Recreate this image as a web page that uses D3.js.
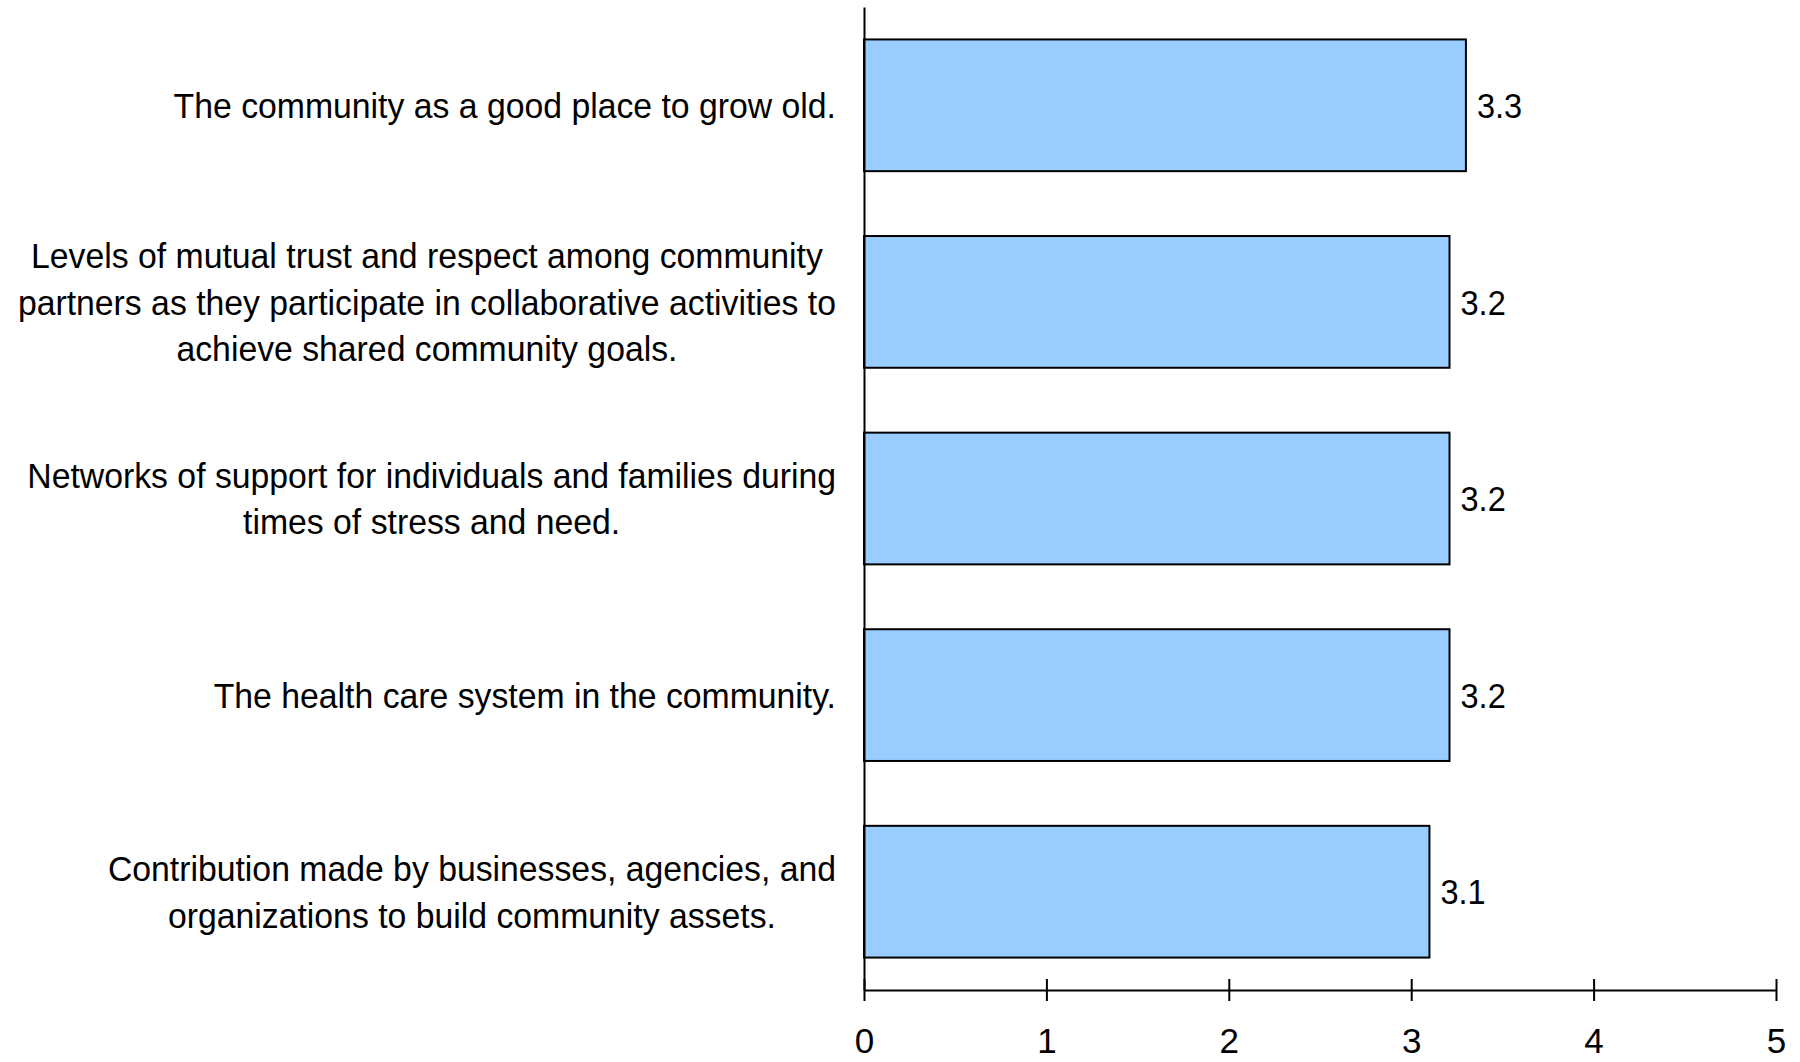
<!DOCTYPE html>
<html>
<head>
<meta charset="utf-8">
<script src="https://cdn.jsdelivr.net/npm/d3@7"></script>
<style>
  body { margin: 0; background: #fff; }
  svg { display: block; }
  text { font-family: 'Liberation Sans', Arial, sans-serif; fill: #000; }
</style>
</head>
<body>
<div id="chart"></div>
<script>
// Category labels (already broken into lines as in the original)
const categories = [
  ['The community as a good place to grow old.'],
  ['Levels of mutual trust and respect among community',
   'partners as they participate in collaborative activities to',
   'achieve shared community goals.'],
  ['Networks of support for individuals and families during',
   'times of stress and need.'],
  ['The health care system in the community.'],
  ['Contribution made by businesses, agencies, and',
   'organizations to build community assets.']
];

// Mean ratings
const values = [3.3, 3.21, 3.21, 3.21, 3.1];

// X axis ticks
const xTicks = [0, 1, 2, 3, 4, 5];

let svgWidth = 1800;
let svgHeight = 1062;

// plot area
let plotLeft = 864, plotRight = 1776, plotTop = 7, plotBottom = 990;

let svg = d3.select('#chart')
  .append('svg')
  .attr('width', svgWidth)
  .attr('height', svgHeight);

let xScale = d3.scaleLinear()
  .domain([0, 5])
  .range([plotLeft, plotRight]);

let yScale = d3.scaleBand()
  .domain(d3.range(categories.length))
  .range([plotTop, plotBottom])
  .paddingInner(0.33)
  .paddingOuter(0.165);

let fontSize = 35;
let squeeze = 0.965; // the original font is a bit narrower than Arial
let lineGap = 46.5;

// Bars
svg.append('g')
  .selectAll('rect')
  .data(values)
  .enter()
  .append('rect')
  .attr('x', xScale(0))
  .attr('y', (d, i) => yScale(i))
  .attr('width', d => xScale(d) - xScale(0))
  .attr('height', yScale.bandwidth())
  .attr('fill', '#99ccff')
  .attr('stroke', '#000')
  .attr('stroke-width', 2);

// Value labels
svg.append('g')
  .selectAll('text')
  .data(values)
  .enter()
  .append('text')
  .attr('transform', (d, i) => `translate(${xScale(d) + 11},${yScale(i) + yScale.bandwidth() / 2}) scale(0.93,1)`)
  .attr('dy', '0.36em')
  .attr('font-size', fontSize + 'px')
  .text(d => d3.format('.1f')(d));

// Y axis line (no ticks)
let yAxis = svg.append('g')
  .attr('transform', `translate(${plotLeft},0)`)
  .call(d3.axisLeft(yScale).tickSize(0).tickFormat(''));
yAxis.select('.domain').attr('stroke', '#000').attr('stroke-width', 2);

// X axis
let xAxis = svg.append('g')
  .attr('transform', `translate(0,${plotBottom})`)
  .call(d3.axisBottom(xScale)
    .tickValues(xTicks)
    .tickFormat(d3.format('d'))
    .tickSizeInner(11)
    .tickSizeOuter(0)
    .tickPadding(27));
xAxis.select('.domain').attr('stroke', '#000').attr('stroke-width', 2);
xAxis.selectAll('.tick line').attr('y1', -11).attr('stroke', '#000').attr('stroke-width', 2);
xAxis.selectAll('.tick text')
  .attr('font-family', "'Liberation Sans', Arial, sans-serif")
  .attr('font-size', fontSize + 'px')
  .attr('fill', '#000');

// Category labels: block right-aligned to the axis, lines centred inside the block
let labelRight = plotLeft - 28;
let labelGroup = svg.append('g');
categories.forEach((lines, i) => {
  let cy = yScale(i) + yScale.bandwidth() / 2;
  let g = labelGroup.append('g')
    .attr('transform', `translate(${labelRight},${cy}) scale(${squeeze},1)`);
  let texts = g.selectAll('text')
    .data(lines)
    .enter()
    .append('text')
    .attr('font-size', fontSize + 'px')
    .attr('text-anchor', 'middle')
    .attr('y', (d, j) => (j - (lines.length - 1) / 2) * lineGap)
    .attr('dy', '0.36em')
    .text(d => d);
  let maxW = d3.max(texts.nodes(), n => n.getComputedTextLength());
  texts.attr('x', -maxW / 2);
});
</script>
</body>
</html>
